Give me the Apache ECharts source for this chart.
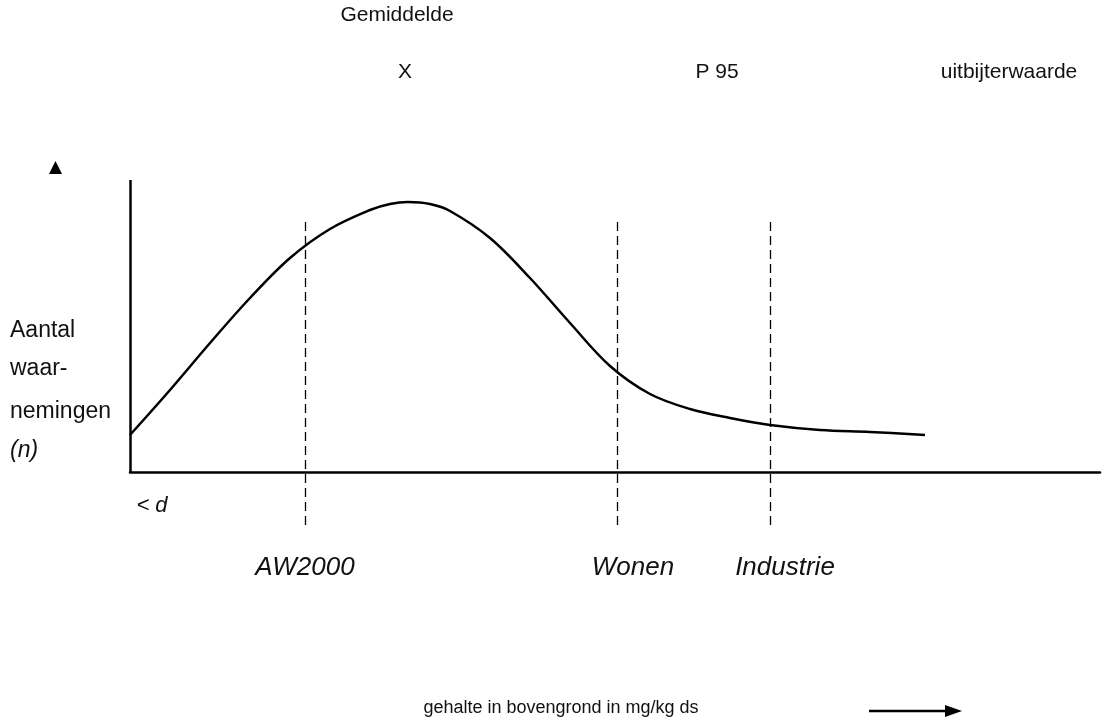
<!DOCTYPE html>
<html>
<head>
<meta charset="utf-8">
<script src="https://cdn.jsdelivr.net/npm/echarts@6/dist/echarts.min.js"></script>
<style>html,body{margin:0;padding:0;background:#fff}#c{width:1102px;height:722px}</style>
</head>
<body>
<div id="c"></div>
<script>
// Schematic distribution curve (x: concentration, schematic units; y: count, schematic units)
const curveX = [0, 40, 80, 120, 160, 200, 240, 260, 278, 300, 320, 360, 400, 440, 480, 520, 560, 600, 640, 690, 740, 795];
const curveY = [37, 82, 129, 174, 214, 243, 262, 268, 270, 268, 261, 234, 194, 149, 106, 78, 63, 54, 47, 42, 40, 37];
// Reference values (vertical dashed lines)
const refNames = ['AW2000', 'Wonen', 'Industrie'];
const refX = [175, 487, 640];
const refTop = 254;
const refBottom = -53;
// Axis extents
const xMax = 970;
const yMax = 292;
const yMin = -60;
// Top annotations
const topLabels = ['Gemiddelde', 'X', 'P 95', 'uitbijterwaarde'];
const yLabelLines = ['Aantal', 'waar-', 'nemingen', '(n)'];
const xTitle = 'gehalte in bovengrond in mg/kg ds';
const belowLabel = '< d';

const FONT = '"Liberation Sans", Arial, sans-serif';
const chart = echarts.init(document.getElementById('c'), null, {renderer: 'canvas'});

const curveData = curveX.map((x, i) => [x, curveY[i]]);
const labelShift = [0, 16, 15];
const refLines = refX.map((x, i) => [
  {coord: [x, refBottom], name: refNames[i], label: {offset: [labelShift[i], 0]}},
  {coord: [x, refTop]}
]);

const txt = (text, x, y, opts) => ({
  type: 'text',
  style: Object.assign({text: text, x: x, y: y, font: '21px ' + FONT, fill: '#111', textAlign: 'center', textVerticalAlign: 'middle'}, opts || {})
});

chart.setOption({
  animation: false,
  backgroundColor: '#fff',
  grid: {left: 130, right: 2, top: 180, bottom: 190},
  xAxis: {
    type: 'value', min: 0, max: xMax,
    axisLine: {show: true, onZero: true, lineStyle: {color: '#000', width: 2.5}},
    axisTick: {show: false}, axisLabel: {show: false}, splitLine: {show: false}
  },
  yAxis: {
    type: 'value', min: yMin, max: yMax,
    axisLine: {show: false}, axisTick: {show: false}, axisLabel: {show: false}, splitLine: {show: false}
  },
  series: [
    {
      type: 'line', data: curveData, smooth: 0.35, symbol: 'none', clip: false,
      lineStyle: {color: '#000', width: 2.5},
      markLine: {
        silent: true, symbol: ['none', 'none'],
        lineStyle: {color: '#000', width: 1.3, type: [9, 5]},
        label: {show: true, position: 'start', distance: 30, formatter: '{b}',
          fontSize: 26, fontStyle: 'italic', color: '#111', fontFamily: FONT},
        data: refLines
      }
    },
    {
      type: 'line', data: [], symbol: 'none',
      markLine: {
        silent: true, symbol: ['none', 'none'],
        lineStyle: {color: '#000', width: 2.5, type: 'solid'},
        label: {show: false},
        data: [[{coord: [0, 0]}, {coord: [0, yMax]}]]
      }
    }
  ],
  graphic: [
    txt(topLabels[0], 397, 15),
    txt(topLabels[1], 405, 72),
    txt(topLabels[2], 717, 72),
    txt(topLabels[3], 1009, 72),
    txt(yLabelLines[0], 10, 331, {textAlign: 'left', font: '23px ' + FONT}),
    txt(yLabelLines[1], 10, 369, {textAlign: 'left', font: '23px ' + FONT}),
    txt(yLabelLines[2], 10, 412, {textAlign: 'left', font: '23px ' + FONT}),
    txt(yLabelLines[3], 10, 451, {textAlign: 'left', font: 'italic 23px ' + FONT}),
    txt(belowLabel, 152, 506, {font: 'italic 22px ' + FONT}),
    txt(xTitle, 561, 708, {font: '18px ' + FONT}),
    {type: 'polygon', shape: {points: [[49, 174], [62, 174], [55.5, 161]]}, style: {fill: '#000'}},
    {type: 'line', shape: {x1: 869, y1: 711, x2: 948, y2: 711}, style: {stroke: '#000', lineWidth: 2.5}},
    {type: 'polygon', shape: {points: [[945, 705], [962, 711], [945, 717]]}, style: {fill: '#000'}}
  ]
});
</script>
</body>
</html>
